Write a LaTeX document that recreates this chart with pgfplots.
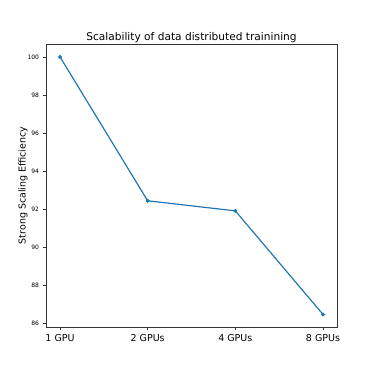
\documentclass[border=0pt]{standalone}
\usepackage{pgfplots}
\pgfplotsset{compat=1.18}
\usepackage{fontspec}
\setmainfont{DejaVu Sans}
\definecolor{mplblue}{HTML}{1F77B4}
\begin{document}
\begin{tikzpicture}[x=1pt,y=1pt]
\useasboundingbox (0,0) rectangle (374,374);
\begin{axis}[
  at={(46pt,47pt)}, anchor=south west,
  scale only axis, width=291pt, height=283pt,
  xmin=-0.16, xmax=3.16, ymin=85.79, ymax=100.68,
  xtick={0,1,2,3},
  xticklabels={1 GPU,2 GPUs,4 GPUs,8 GPUs},
  ytick={86,88,90,92,94,96,98,100},
  tick align=outside, tick pos=left,
  major tick length=3.5pt,
  /pgf/number format/assume math mode=true,
  yticklabel style={font=\fontsize{6}{7}\selectfont},
  xticklabel style={font=\fontsize{9.5}{11}\selectfont},
  title={Scalability of data distributed trainining},
  title style={font=\fontsize{10.6}{12}\selectfont, yshift=-8pt},
  ylabel={Strong Scaling Efficiency},
  ylabel shift=-7pt,
  ylabel style={font=\fontsize{9.5}{11}\selectfont},
  axis line style={black!80},
  every tick/.style={black!80},
]
\addplot[color=mplblue, line width=1.2pt, mark=*, mark size=1.3pt] coordinates {
(0,100) (1,92.43) (2,91.9) (3,86.45)
};
\end{axis}
\end{tikzpicture}
\end{document}
